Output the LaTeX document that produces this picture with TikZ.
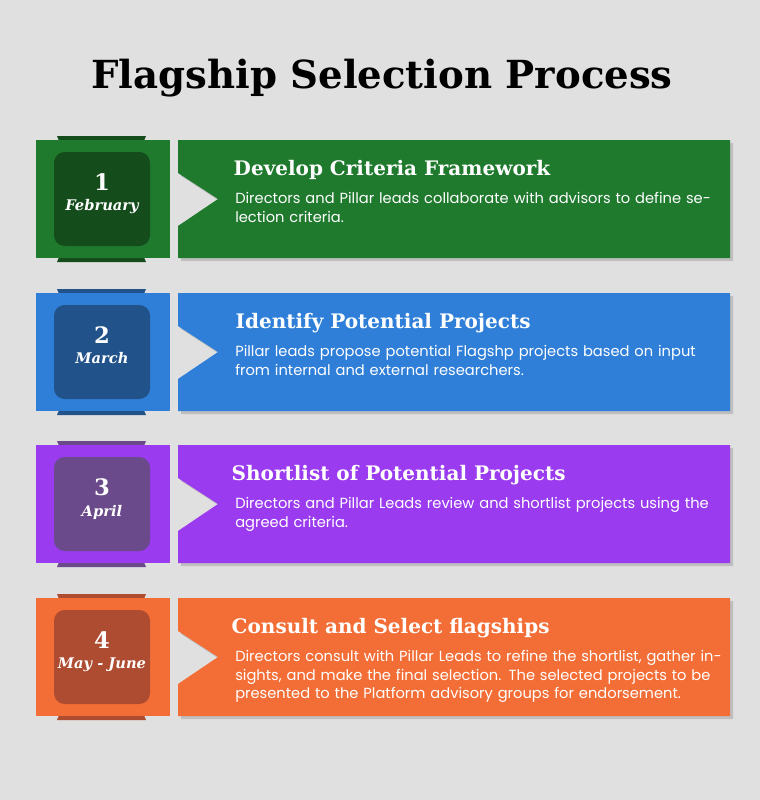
\documentclass[tikz,border=0pt]{standalone}
\usepackage{fontspec}
\setmainfont{Poppins}
\newfontfamily\slabfont{DejaVu Serif}
\usetikzlibrary{positioning}
\definecolor{bg}{RGB}{224,224,224}
\definecolor{greenA}{RGB}{31,122,46}
\definecolor{greenB}{RGB}{20,76,28}
\definecolor{blueA}{RGB}{47,127,217}
\definecolor{blueB}{RGB}{33,82,138}
\definecolor{purpleA}{RGB}{155,59,239}
\definecolor{purpleB}{RGB}{106,74,138}
\definecolor{orangeA}{RGB}{243,110,54}
\definecolor{orangeB}{RGB}{174,76,50}

\begin{document}
\begin{tikzpicture}[x=0.75pt, y=-0.75pt,
head/.style={anchor=west, text=white, font=\slabfont\bfseries\fontsize{15}{18}\selectfont},
body/.style={anchor=north west, text=white, align=left, text width=370pt, inner sep=0pt, font=\fontsize{11}{14}\selectfont},
num/.style={text=white, font=\slabfont\bfseries\fontsize{17}{20}\selectfont},
month/.style={text=white, font=\slabfont\bfseries\itshape\fontsize{11}{13}\selectfont}]
\fill[bg] (0,0) rectangle (760,800);

% title
\node (title) at (382,78) {\slabfont\bfseries\fontsize{29}{34}\selectfont Flagship Selection Process};

% steps
\foreach \y/\ca/\cb/\n/\m/\h/\hx/\t in {
140/greenA/greenB/1/February/{Develop Criteria Framework}/229/{Directors and Pillar leads collaborate with advisors to define selection criteria.},
293/blueA/blueB/2/March/{Identify Potential Projects}/231/{Pillar leads propose potential Flagshp projects based on input from internal and external researchers.},
445/purpleA/purpleB/3/April/{Shortlist of Potential Projects}/227/{Directors and Pillar Leads review and shortlist projects using the agreed criteria.},
598/orangeA/orangeB/4/May - June/{Consult and Select flagships}/227/{Directors consult with Pillar Leads to refine the shortlist, gather insights, and make the final selection. The selected projects to be presented to the Platform advisory groups for endorsement.}}
{
  % left square and tabs
  \fill[\cb] (57,{\y-4}) -- (146,{\y-4}) -- (141,{\y+8}) -- (62,{\y+8}) -- cycle;
  \fill[\cb] (62,{\y+110}) -- (141,{\y+110}) -- (146,{\y+122}) -- (57,{\y+122}) -- cycle;
  \fill[\ca] (36,\y) rectangle (170,{\y+118});
  \fill[\cb, rounded corners=8pt] (54,{\y+12}) rectangle (150,{\y+106});
  \node[num] (n\n) at (102,{\y+42}) {\n};
  \node[month, below=0pt of n\n] (m\n) {\m};
  % card with notch
  \fill[black!25] (181,{\y+3}) -- (733,{\y+3}) -- (733,{\y+121}) -- (181,{\y+121}) -- (181,{\y+88}) -- (221,{\y+62}) -- (181,{\y+36}) -- cycle;
  \fill[\ca] (178,\y) -- (730,\y) -- (730,{\y+118}) -- (178,{\y+118}) -- (178,{\y+86}) -- (218,{\y+59}) -- (178,{\y+33}) -- cycle;
  \node[head] (h\n) at (\hx,{\y+30}) {\h};
  \node[body] (b\n) at (235,{\y+52}) {\t};
}
\end{tikzpicture}
\end{document}
